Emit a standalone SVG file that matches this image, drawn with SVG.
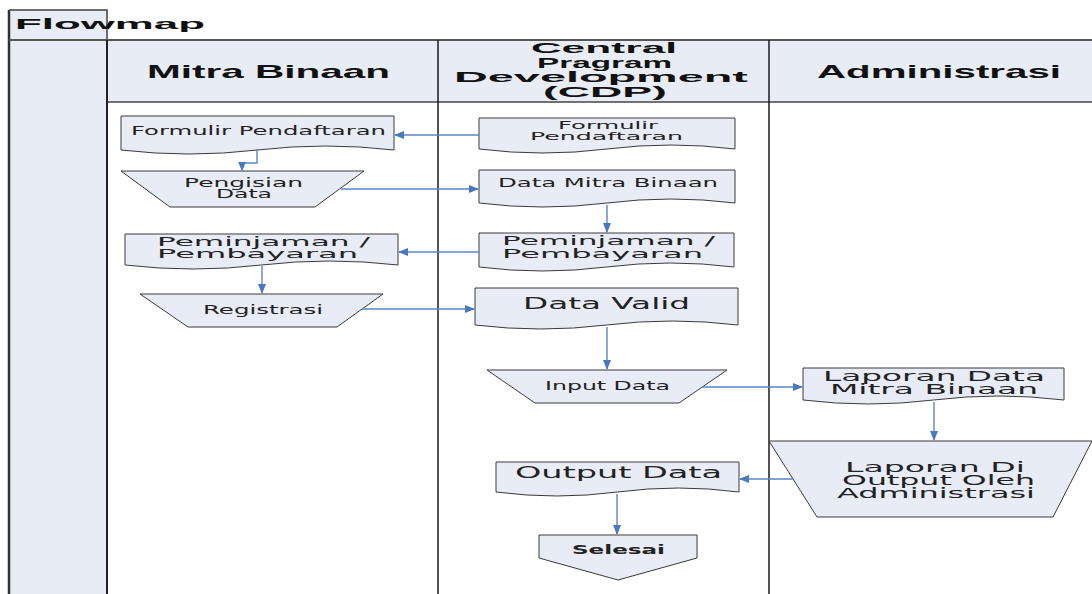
<svg xmlns="http://www.w3.org/2000/svg" width="1092" height="594" viewBox="0 0 1092 594">
  <style>
    .bg { fill: #E8ECF5; }
    .frame { stroke: #1a1a1a; stroke-width: 1.5; fill: none; }
    .hdr { font-family: "Liberation Sans", Arial, sans-serif; font-weight: bold; fill: #111; }
    .node { fill: #E8ECF6; stroke: #3a3a3a; stroke-width: 1; }
    .t { font-family: "DejaVu Sans", Verdana, sans-serif; fill: #222; }
    .conn { stroke: #5A86C8; stroke-width: 1.4; fill: none; }
  </style>
  <defs>
    <marker id="arr" markerUnits="userSpaceOnUse" markerWidth="10" markerHeight="8" refX="9" refY="4" orient="auto">
      <path d="M0,0 L10,4 L0,8 Z" fill="#4A78C0"/>
    </marker>
  </defs>

  <rect width="1092" height="594" fill="#ffffff"/>

  <g id="frame">
    <rect class="bg" x="9" y="10" width="98" height="30"/>
    <rect class="bg" x="9" y="40" width="98" height="554"/>
    <rect class="bg" x="107" y="40" width="985" height="62"/>
    <path d="M9,10 H107 V40" fill="none" stroke="#404040" stroke-width="1.5"/>
    <line x1="9" y1="10" x2="9" y2="594" stroke="#333" stroke-width="2.5"/>
    <line x1="9" y1="40" x2="1092" y2="40" stroke="#555" stroke-width="2"/>
    <line x1="107" y1="102" x2="1092" y2="102" stroke="#444" stroke-width="1.5"/>
    <line x1="107" y1="40" x2="107" y2="594" stroke="#222" stroke-width="2"/>
    <line x1="438" y1="40" x2="438" y2="594" class="frame"/>
    <line x1="769" y1="40" x2="769" y2="594" class="frame"/>
    <text class="hdr" x="15" y="29" font-size="15" textLength="190" lengthAdjust="spacingAndGlyphs">Flowmap</text>
    <text class="hdr" x="147" y="78" font-size="19" textLength="243" lengthAdjust="spacingAndGlyphs">Mitra Binaan</text>
    <text class="hdr" x="817" y="78" font-size="19" textLength="244" lengthAdjust="spacingAndGlyphs">Administrasi</text>
    <text class="hdr" x="531" y="53" font-size="15" textLength="146" lengthAdjust="spacingAndGlyphs">Central</text>
    <text class="hdr" x="537" y="67.5" font-size="15" textLength="135" lengthAdjust="spacingAndGlyphs">Pragram</text>
    <text class="hdr" x="454" y="82" font-size="15" textLength="294" lengthAdjust="spacingAndGlyphs">Development</text>
    <text class="hdr" x="543" y="96.5" font-size="15" textLength="124" lengthAdjust="spacingAndGlyphs">(CDP)</text>
  </g>

  <g id="n-formulir-mitra">
    <path class="node" d="M121,116 H394 V150 Q325.75,142 257.5,150 T121,150 Z"/>
    <text class="t" x="131" y="135" font-size="13" textLength="255" lengthAdjust="spacingAndGlyphs">Formulir Pendaftaran</text>
  </g>
  <g id="n-pengisian">
    <path class="node" d="M121,171 H364 L315,207 H170 Z"/>
    <text class="t" x="184" y="187" font-size="11.5" textLength="119" lengthAdjust="spacingAndGlyphs">Pengisian</text>
    <text class="t" x="216" y="197.5" font-size="11.5" textLength="56" lengthAdjust="spacingAndGlyphs">Data</text>
  </g>
  <g id="n-formulir-cdp">
    <path class="node" d="M479,118 H735 V149 Q671,141 607,149 T479,149 Z"/>
    <text class="t" x="558" y="129" font-size="10.5" textLength="100" lengthAdjust="spacingAndGlyphs">Formulir</text>
    <text class="t" x="530" y="139.5" font-size="10.5" textLength="153" lengthAdjust="spacingAndGlyphs">Pendaftaran</text>
  </g>
  <g id="n-data-mitra">
    <path class="node" d="M479,170 H735 V203 Q671,195 607,203 T479,203 Z"/>
    <text class="t" x="498" y="187" font-size="13" textLength="220" lengthAdjust="spacingAndGlyphs">Data Mitra Binaan</text>
  </g>
  <g id="n-pinjam-mitra">
    <path class="node" d="M125,234 H398 V265 Q329.75,257 261.5,265 T125,265 Z"/>
    <text class="t" x="157" y="246" font-size="13" textLength="213" lengthAdjust="spacingAndGlyphs">Peminjaman /</text>
    <text class="t" x="157" y="258" font-size="13" textLength="201" lengthAdjust="spacingAndGlyphs">Pembayaran</text>
  </g>
  <g id="n-pinjam-cdp">
    <path class="node" d="M479,233 H734 V267 Q670.25,259 606.5,267 T479,267 Z"/>
    <text class="t" x="502" y="245" font-size="13" textLength="213" lengthAdjust="spacingAndGlyphs">Peminjaman /</text>
    <text class="t" x="502" y="257.5" font-size="13" textLength="201" lengthAdjust="spacingAndGlyphs">Pembayaran</text>
  </g>
  <g id="n-registrasi">
    <path class="node" d="M140,294 H383 L337,327 H188 Z"/>
    <text class="t" x="203" y="314" font-size="12.5" textLength="120" lengthAdjust="spacingAndGlyphs">Registrasi</text>
  </g>
  <g id="n-data-valid">
    <path class="node" d="M475,288 H738 V325 Q672.25,317 606.5,325 T475,325 Z"/>
    <text class="t" x="523" y="309" font-size="15" textLength="167" lengthAdjust="spacingAndGlyphs">Data Valid</text>
  </g>
  <g id="n-input">
    <path class="node" d="M487,370 H727 L679,403 H535 Z"/>
    <text class="t" x="545" y="390" font-size="12" textLength="125" lengthAdjust="spacingAndGlyphs">Input Data</text>
  </g>
  <g id="n-laporan-data">
    <path class="node" d="M803,368 H1064 V400 Q998.75,392 933.5,400 T803,400 Z"/>
    <text class="t" x="823" y="381" font-size="14.5" textLength="222" lengthAdjust="spacingAndGlyphs">Laporan Data</text>
    <text class="t" x="830" y="394" font-size="14.5" textLength="208" lengthAdjust="spacingAndGlyphs">Mitra Binaan</text>
  </g>
  <g id="n-laporan-output">
    <path class="node" d="M769,441 H1092 L1053,517 H817 Z"/>
    <text class="t" x="845" y="471.5" font-size="14.5" textLength="180" lengthAdjust="spacingAndGlyphs">Laporan Di</text>
    <text class="t" x="842" y="484.5" font-size="14.5" textLength="193" lengthAdjust="spacingAndGlyphs">Output Oleh</text>
    <text class="t" x="837" y="497.5" font-size="14.5" textLength="198" lengthAdjust="spacingAndGlyphs">Administrasi</text>
  </g>
  <g id="n-output">
    <path class="node" d="M496,462 H739 V492 Q678.25,484 617.5,492 T496,492 Z"/>
    <text class="t" x="515" y="478" font-size="16" textLength="207" lengthAdjust="spacingAndGlyphs">Output Data</text>
  </g>
  <g id="n-selesai">
    <path class="node" d="M539,535 H697 V558 L618,580 L539,558 Z"/>
    <text class="t" x="572" y="554" font-size="12" font-weight="bold" textLength="93" lengthAdjust="spacingAndGlyphs">Selesai</text>
  </g>

  <g id="connectors">
    <path class="conn" d="M479,135 H395" marker-end="url(#arr)"/>
    <path class="conn" d="M257,149 V163 H242 V170.5" marker-end="url(#arr)"/>
    <path class="conn" d="M341,189 H478" marker-end="url(#arr)"/>
    <path class="conn" d="M607,205 V232" marker-end="url(#arr)"/>
    <path class="conn" d="M479,252 H399" marker-end="url(#arr)"/>
    <path class="conn" d="M262,266 V293" marker-end="url(#arr)"/>
    <path class="conn" d="M362,309 H474" marker-end="url(#arr)"/>
    <path class="conn" d="M607,327 V369" marker-end="url(#arr)"/>
    <path class="conn" d="M702,387 H802" marker-end="url(#arr)"/>
    <path class="conn" d="M934,402 V440" marker-end="url(#arr)"/>
    <path class="conn" d="M793,479 H740" marker-end="url(#arr)"/>
    <path class="conn" d="M617,494 V534" marker-end="url(#arr)"/>
  </g>
</svg>
